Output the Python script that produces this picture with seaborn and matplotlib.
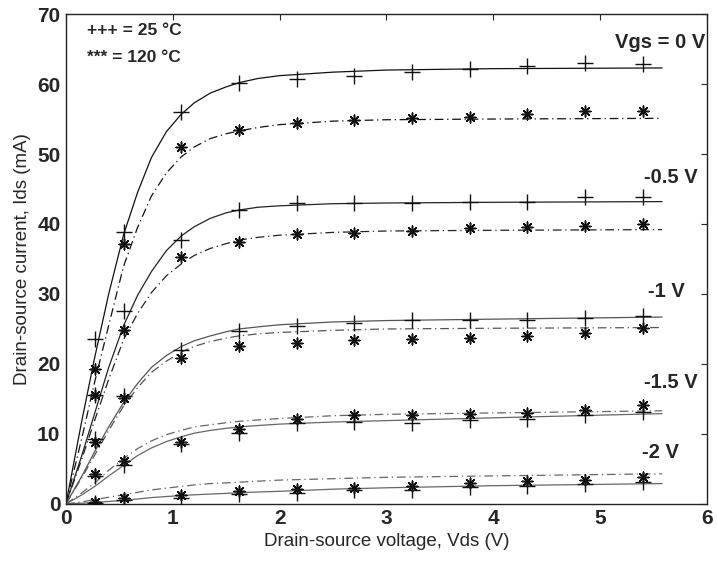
import matplotlib
matplotlib.use("Agg")
import matplotlib.pyplot as plt
import seaborn as sns
import pandas as pd

# Measured bias points (Vds, V)
vds_meas = [0.27, 0.54, 1.08, 1.62, 2.16, 2.70, 3.24, 3.78, 4.32, 4.86, 5.40]

# Measured drain current (mA), 25 °C (+) and 120 °C (*)
ids_0_25 = [23.5, 38.9, 56.0, 60.1, 60.7, 61.1, 61.7, 62.1, 62.6, 63.0, 62.9]
ids_0_120 = [19.3, 37.2, 51.0, 53.4, 54.4, 54.9, 55.1, 55.3, 55.7, 56.1, 56.1]
ids_05_25 = [15.6, 27.5, 37.7, 42.0, 43.0, 43.0, 43.0, 43.1, 43.1, 43.9, 43.9]
ids_05_120 = [15.5, 24.9, 35.3, 37.4, 38.6, 38.7, 39.0, 39.4, 39.5, 39.7, 40.0]
ids_1_25 = [9.3, 15.4, 22.0, 24.7, 25.4, 25.8, 26.3, 26.3, 26.3, 26.5, 26.9]
ids_1_120 = [8.9, 15.2, 20.8, 22.5, 23.0, 23.4, 23.5, 23.7, 24.0, 24.4, 25.1]
ids_15_25 = [4.0, 5.6, 8.5, 10.1, 11.6, 11.7, 11.5, 12.0, 12.2, 12.7, 13.1]
ids_15_120 = [4.3, 6.2, 8.9, 10.7, 12.2, 12.7, 12.7, 12.9, 13.0, 13.4, 14.1]
ids_2_25 = [0.1, 0.6, 0.9, 1.4, 1.6, 2.0, 2.0, 2.4, 2.6, 2.8, 3.1]
ids_2_120 = [0.3, 0.9, 1.2, 1.8, 2.1, 2.3, 2.6, 3.0, 3.2, 3.4, 3.8]

# Model curves (Vds, V)
vds_model = [0, 0.15, 0.27, 0.4, 0.54, 0.67, 0.8, 0.94, 1.08, 1.2, 1.35, 1.5,
             1.62, 1.8, 2.0, 2.5, 3.0, 4.0, 5.58]
mod_0_25 = [0, 12.0, 21.0, 30.0, 38.5, 44.5, 49.5, 53.2, 55.7, 57.3, 58.7, 59.6,
            60.2, 60.8, 61.2, 61.7, 62.0, 62.2, 62.3]
mod_0_120 = [0, 9.5, 17.5, 25.5, 34.0, 39.5, 44.0, 47.3, 49.6, 51.0, 52.2, 52.9,
             53.3, 53.8, 54.2, 54.7, 54.9, 55.0, 55.1]
mod_05_25 = [0, 7.0, 13.0, 19.5, 25.5, 29.8, 33.2, 36.2, 38.3, 39.6, 40.8, 41.6,
             42.0, 42.4, 42.6, 42.9, 43.0, 43.1, 43.2]
mod_05_120 = [0, 6.5, 12.0, 17.8, 23.5, 27.2, 30.2, 32.6, 34.3, 35.5, 36.5, 37.2,
              37.7, 38.1, 38.4, 38.8, 39.0, 39.1, 39.2]
mod_1_25 = [0, 4.0, 7.5, 11.0, 14.5, 17.2, 19.5, 21.2, 22.5, 23.3, 24.0, 24.6,
            25.0, 25.3, 25.6, 26.0, 26.2, 26.4, 26.7]
mod_1_120 = [0, 3.8, 7.0, 10.5, 14.0, 16.6, 18.8, 20.4, 21.7, 22.5, 23.2, 23.7,
             24.0, 24.3, 24.5, 24.8, 25.0, 25.1, 25.2]
mod_15_25 = [0, 1.3, 2.5, 4.0, 5.5, 6.9, 8.0, 8.9, 9.6, 10.1, 10.5, 10.8,
             11.0, 11.2, 11.4, 11.7, 11.9, 12.3, 12.9]
mod_15_120 = [0, 1.6, 3.0, 4.8, 6.5, 7.9, 9.0, 9.9, 10.5, 11.0, 11.3, 11.6,
              11.8, 12.0, 12.2, 12.6, 12.8, 13.0, 13.3]
mod_2_25 = [0, 0.1, 0.2, 0.35, 0.5, 0.7, 0.9, 1.05, 1.2, 1.3, 1.4, 1.5,
            1.6, 1.7, 1.8, 2.1, 2.3, 2.6, 2.9]
mod_2_120 = [0, 0.3, 0.6, 0.95, 1.3, 1.65, 2.0, 2.25, 2.5, 2.7, 2.9, 3.0,
             3.1, 3.25, 3.4, 3.6, 3.8, 4.0, 4.3]

vgs_labels = ["Vgs = 0 V", "-0.5 V", "-1 V", "-1.5 V", "-2 V"]
vgs_label_y = [66.0, 46.7, 30.3, 17.3, 7.4]
vgs_label_x = [5.98, 5.91, 5.79, 5.91, 5.74]

sns.set_style("white")
plt.rcParams["font.family"] = ["Liberation Sans", "DejaVu Sans"]

fig = plt.figure(figsize=(7.17, 5.63), dpi=100)
ax = fig.add_axes([0.092, 0.105, 0.894, 0.870])

meas_25 = [ids_0_25, ids_05_25, ids_1_25, ids_15_25, ids_2_25]
meas_120 = [ids_0_120, ids_05_120, ids_1_120, ids_15_120, ids_2_120]
mod_25 = [mod_0_25, mod_05_25, mod_1_25, mod_15_25, mod_2_25]
mod_120 = [mod_0_120, mod_05_120, mod_1_120, mod_15_120, mod_2_120]
line_grey = ["#111111", "#222222", "#555555", "#666666", "#666666"]

for i in range(5):
    df_m = pd.DataFrame({"Vds": vds_model, "I25": mod_25[i], "I120": mod_120[i]})
    sns.lineplot(data=df_m, x="Vds", y="I25", ax=ax, color=line_grey[i],
                 linewidth=0.9, linestyle="-", estimator=None, sort=False)
    sns.lineplot(data=df_m, x="Vds", y="I120", ax=ax, color=line_grey[i],
                 linewidth=0.9, linestyle=(0, (7, 3, 1, 3)), estimator=None, sort=False)
    df_p = pd.DataFrame({"Vds": vds_meas, "I25": meas_25[i], "I120": meas_120[i]})
    sns.scatterplot(data=df_p, x="Vds", y="I25", ax=ax, marker="+", s=130,
                    color="#111111", linewidth=1.0, zorder=3)
    sns.scatterplot(data=df_p, x="Vds", y="I120", ax=ax, marker=(8, 2, 0), s=60,
                    color="#111111", linewidth=1.1, zorder=3)

for txt, xv, yv in zip(vgs_labels, vgs_label_x, vgs_label_y):
    ax.text(xv, yv, txt, ha="right", va="center", fontsize=14.5, fontweight="bold")

ax.text(0.2, 67.6, "+++ = 25 °C", ha="left", va="center", fontsize=12.5, fontweight="bold")
ax.text(0.2, 63.8, "*** = 120 °C", ha="left", va="center", fontsize=12.5, fontweight="bold")

ax.set_xlim(0, 6)
ax.set_ylim(0, 70)
ax.set_xticks(range(0, 7))
ax.set_yticks(range(0, 71, 10))
ax.tick_params(axis="both", which="both", direction="in", length=4, width=0.8,
               top=True, right=True, labelsize=15, pad=4)
for lab in ax.get_xticklabels() + ax.get_yticklabels():
    lab.set_fontweight("bold")
for sp in ax.spines.values():
    sp.set_visible(True)
    sp.set_color("#222222")
    sp.set_linewidth(1.0)

ax.set_xlabel("Drain-source voltage, Vds (V)", fontsize=13.5, labelpad=3)
ax.set_ylabel("Drain-source current, Ids (mA)", fontsize=13.5, labelpad=4)

fig.savefig("out.png", dpi=100, facecolor="white")
